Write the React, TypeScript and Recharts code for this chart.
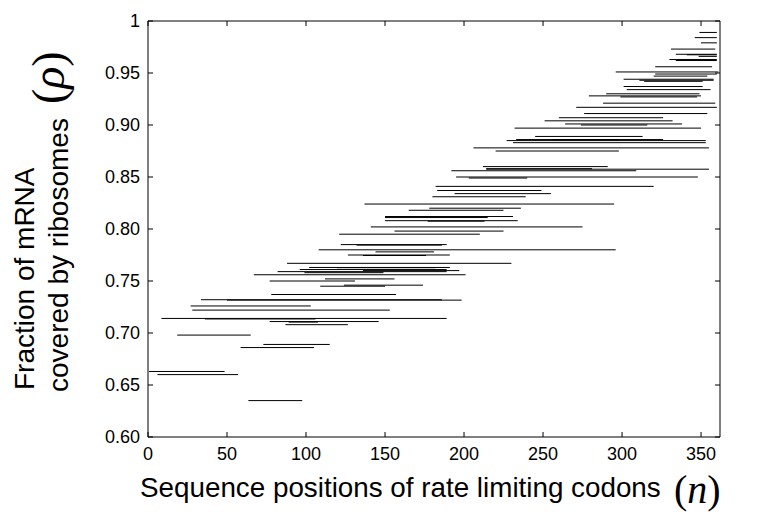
import React from "react";
import { LineChart, Line, XAxis, YAxis } from "recharts";

// Each horizontal segment: y level (rho), start and end sequence position
const segY: number[] = [
  0.989, 0.984, 0.979, 0.973, 0.968, 0.9675, 0.966, 0.963, 0.962, 0.956,
  0.951, 0.949, 0.947, 0.944, 0.943, 0.942, 0.937, 0.934, 0.93, 0.928,
  0.927, 0.921, 0.917, 0.911, 0.907, 0.904, 0.901, 0.9, 0.897, 0.889,
  0.886, 0.8858, 0.885, 0.883, 0.878, 0.875, 0.86, 0.858, 0.8575, 0.856,
  0.85, 0.849, 0.841, 0.837, 0.834, 0.831, 0.824, 0.82, 0.818, 0.812,
  0.811, 0.808, 0.8075, 0.802, 0.798, 0.795, 0.785, 0.7845, 0.78, 0.778,
  0.775, 0.7745, 0.767, 0.763, 0.7628, 0.761, 0.76, 0.759, 0.758, 0.756,
  0.752, 0.75, 0.746, 0.745, 0.737, 0.732, 0.7316, 0.726, 0.722, 0.714,
  0.7135, 0.711, 0.7105, 0.708, 0.698, 0.689, 0.686, 0.663, 0.66, 0.635,
];
const segStart: number[] = [
  349, 346, 350, 331, 334, 341, 348.5, 330, 334, 321,
  296, 321, 320, 301, 311, 314, 301, 303, 290, 279,
  299, 288, 271, 276, 260, 251, 264, 274, 232, 245,
  233, 256, 227, 231, 206, 220, 212, 214, 214, 192,
  195, 203, 182, 183, 194, 180, 137, 178, 165, 150,
  150, 150, 177, 141, 156, 121, 122, 132, 108, 144,
  126.5, 136, 88, 102, 119.5, 96, 136, 82, 99, 67,
  112, 77, 124, 109, 78, 33.5, 50, 27, 28, 8.5,
  36, 77, 89, 87, 18.5, 73, 58.6, 0.7, 6, 63.5,
];
const segEnd: number[] = [
  360, 360, 360, 359, 360, 360, 360, 360, 360, 357,
  361, 360, 354, 358, 358, 351, 351, 356, 349, 350,
  347.5, 359, 360, 354, 326, 332, 338, 316, 350, 313,
  326, 298, 353, 353, 355, 298, 291, 281, 355, 309,
  348, 240, 320, 249, 255, 239, 295, 236, 225, 231,
  215, 234, 213, 275, 225, 210, 189, 186, 296, 181,
  191, 176, 230, 191, 182, 189, 197, 189, 149, 201,
  156, 131, 174, 150, 157, 186, 198.5, 103, 153, 189,
  106, 146, 107.5, 126.5, 65, 115, 105, 48.5, 57, 97.6,
];

const xTicks: number[] = [0, 50, 100, 150, 200, 250, 300, 350];
const yTicks: number[] = [0.6, 0.65, 0.7, 0.75, 0.8, 0.85, 0.9, 0.95, 1];

// Build line data: each segment is two points followed by a gap
const lineData: { x: number; y: number | null }[] = [];
segY.forEach((y, i) => {
  lineData.push({ x: segStart[i], y });
  lineData.push({ x: segEnd[i], y });
  lineData.push({ x: segEnd[i], y: null });
});

const sans = "'Liberation Sans', Arial, Helvetica, sans-serif";
const serif = "'Liberation Serif', 'Times New Roman', Times, serif";
const tickStyle = { fontSize: 18, fill: "#000", fontFamily: sans };
const noLabel = () => "";

export default function App() {
  return (
    <div style={{ position: "fixed", left: 0, top: 0, width: 766, height: 514, background: "#fff" }}>
      <LineChart
        width={766}
        height={514}
        data={lineData}
        margin={{ top: 20, right: 45, bottom: 47, left: 88 }}
      >
        <XAxis
          dataKey="x"
          type="number"
          domain={[0, 362]}
          ticks={xTicks}
          allowDataOverflow
          height={30}
          tickSize={-5}
          tickMargin={15}
          stroke="#000"
          tick={tickStyle}
          interval={0}
        />
        <XAxis
          xAxisId="top"
          orientation="top"
          dataKey="x"
          type="number"
          domain={[0, 362]}
          ticks={xTicks}
          allowDataOverflow
          height={1}
          tickSize={-5}
          tickFormatter={noLabel}
          stroke="#000"
          interval={0}
        />
        <YAxis
          type="number"
          domain={[0.6, 1]}
          ticks={yTicks}
          allowDataOverflow
          width={60}
          tickSize={-5}
          tickMargin={13}
          stroke="#000"
          tick={tickStyle}
          interval={0}
          tickFormatter={(v: number) => (v === 1 ? "1" : v.toFixed(2))}
        />
        <YAxis
          yAxisId="right"
          orientation="right"
          type="number"
          domain={[0.6, 1]}
          ticks={yTicks}
          allowDataOverflow
          width={1}
          tickSize={-5}
          tickFormatter={noLabel}
          stroke="#000"
          interval={0}
        />
        <Line
          dataKey="y"
          type="linear"
          stroke="#000"
          strokeWidth={1}
          dot={false}
          activeDot={false}
          connectNulls={false}
          isAnimationActive={false}
        />
      </LineChart>
      <svg
        width={766}
        height={514}
        style={{ position: "absolute", left: 0, top: 0, pointerEvents: "none" }}
      >
        <text x={140} y={497} fontFamily={sans} fontSize={27.8} fill="#000">
          Sequence positions of rate limiting codons
        </text>
        <text x={674} y={503} fontFamily={serif} fontSize={40} fill="#000">
          (<tspan fontStyle="italic">n</tspan>)
        </text>
        <text transform="translate(34,390) rotate(-90)" fontFamily={sans} fontSize={28} fill="#000">
          Fraction of mRNA
        </text>
        <text transform="translate(68,392) rotate(-90)" fontFamily={sans} fontSize={28} fill="#000">
          covered by ribosomes
          <tspan fontFamily={serif} fontSize={46} dx={14} dy={-4}>
            (<tspan fontStyle="italic">ρ</tspan>)
          </tspan>
        </text>
      </svg>
    </div>
  );
}
